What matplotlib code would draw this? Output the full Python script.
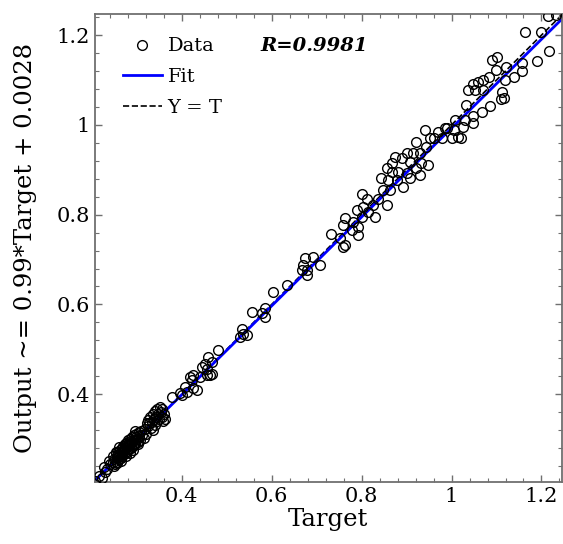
import matplotlib.pyplot as plt
from matplotlib.ticker import MultipleLocator, AutoMinorLocator
import numpy as np

# 目标值 (Target)
target = [
    0.208, 0.215, 0.222, 0.230, 0.226, 0.233, 0.241, 0.238,
    0.246, 0.248, 0.250, 0.252, 0.254, 0.255, 0.257, 0.258, 0.260, 0.261,
    0.262, 0.263, 0.264, 0.266, 0.267, 0.268, 0.270, 0.271, 0.272, 0.273,
    0.274, 0.275, 0.277, 0.278, 0.279, 0.281, 0.282, 0.283, 0.285, 0.286,
    0.287, 0.289, 0.290, 0.292, 0.293, 0.295, 0.296, 0.298, 0.300, 0.302,
    0.304, 0.306, 0.308, 0.310, 0.312, 0.315, 0.318, 0.320,
    0.249, 0.256, 0.259, 0.265, 0.269, 0.276, 0.280, 0.284, 0.288, 0.291,
    0.294, 0.299, 0.303, 0.253, 0.261, 0.276, 0.297,
    0.324, 0.326, 0.328, 0.330, 0.332, 0.334, 0.336, 0.338, 0.340, 0.341,
    0.343, 0.345, 0.346, 0.348, 0.350, 0.351, 0.353, 0.355, 0.357, 0.359,
    0.360, 0.362, 0.336, 0.322,
    0.378, 0.396, 0.400, 0.407, 0.411, 0.426, 0.422, 0.433, 0.441, 0.456,
    0.426, 0.467, 0.444, 0.456, 0.452, 0.467, 0.459, 0.481, 0.418, 0.463,
    0.530, 0.537, 0.544, 0.533, 0.556, 0.585, 0.578, 0.585, 0.604, 0.633,
    0.678, 0.667, 0.678, 0.670, 0.707, 0.674, 0.692,
    0.759, 0.763, 0.752, 0.733, 0.792, 0.778, 0.792, 0.759, 0.781, 0.763,
    0.830, 0.800, 0.815, 0.789, 0.804, 0.826, 0.856, 0.837, 0.811, 0.800,
    0.848, 0.863, 0.892, 0.907, 0.878, 0.859, 0.844, 0.930, 0.900, 0.881,
    0.867, 0.856, 0.867, 0.922, 0.948, 0.933, 0.907, 0.874, 0.889, 0.900,
    0.915, 0.930, 0.944, 0.922, 0.952, 0.941, 0.970, 0.989,
    0.961, 0.978, 0.985, 1.005, 1.000, 1.015, 1.022, 1.026, 1.007, 1.030,
    1.047, 1.047, 1.067, 1.085, 1.033, 1.111, 1.116, 1.113, 1.070, 1.053,
    1.037, 1.048, 1.059, 1.070, 1.083, 1.098, 1.089, 1.100, 1.118, 1.121,
    1.138, 1.157, 1.157, 1.191, 1.216, 1.198, 1.164, 1.233, 1.214,
]

# 网络输出 (Output)
output = [
    0.207, 0.218, 0.214, 0.227, 0.238, 0.233, 0.245, 0.252,
    0.250, 0.262, 0.255, 0.244, 0.268, 0.258, 0.250, 0.272, 0.263, 0.255,
    0.276, 0.268, 0.258, 0.281, 0.270, 0.262, 0.285, 0.274, 0.266, 0.290,
    0.279, 0.270, 0.292, 0.283, 0.274, 0.297, 0.287, 0.278, 0.300, 0.290,
    0.281, 0.304, 0.294, 0.285, 0.308, 0.298, 0.290, 0.312, 0.301, 0.293,
    0.316, 0.306, 0.298, 0.318, 0.309, 0.302, 0.322, 0.312,
    0.240, 0.247, 0.265, 0.252, 0.276, 0.262, 0.290, 0.268, 0.296, 0.276,
    0.286, 0.305, 0.288, 0.272, 0.282, 0.286, 0.318,
    0.330, 0.342, 0.335, 0.350, 0.325, 0.338, 0.356, 0.345, 0.332, 0.362,
    0.350, 0.340, 0.368, 0.356, 0.345, 0.372, 0.360, 0.350, 0.366, 0.340,
    0.356, 0.345, 0.320, 0.335,
    0.394, 0.402, 0.398, 0.416, 0.405, 0.413, 0.431, 0.409, 0.439, 0.442,
    0.442, 0.446, 0.461, 0.457, 0.468, 0.472, 0.483, 0.498, 0.439, 0.442,
    0.528, 0.535, 0.532, 0.546, 0.583, 0.572, 0.580, 0.591, 0.628, 0.643,
    0.665, 0.676, 0.676, 0.688, 0.688, 0.703, 0.706,
    0.728, 0.732, 0.747, 0.758, 0.755, 0.766, 0.773, 0.777, 0.784, 0.792,
    0.795, 0.795, 0.806, 0.810, 0.818, 0.821, 0.821, 0.834, 0.834, 0.847,
    0.855, 0.855, 0.862, 0.881, 0.877, 0.877, 0.881, 0.888, 0.892, 0.896,
    0.896, 0.903, 0.914, 0.903, 0.911, 0.914, 0.918, 0.929, 0.926, 0.937,
    0.937, 0.937, 0.951, 0.963, 0.970, 0.989, 0.985, 0.992,
    0.970, 0.970, 0.992, 0.989, 0.970, 0.974, 0.970, 0.996, 1.011, 1.011,
    1.005, 1.020, 1.029, 1.041, 1.044, 1.057, 1.059, 1.074, 1.078, 1.078,
    1.078, 1.091, 1.096, 1.100, 1.107, 1.122, 1.145, 1.152, 1.099, 1.128,
    1.106, 1.121, 1.139, 1.143, 1.165, 1.206, 1.206, 1.245, 1.243,
]

fit_slope = 0.99
fit_intercept = 0.0028
r_value = 0.9981

x_limits = (0.207, 1.245)
y_limits = (0.205, 1.247)


def main():
    plt.rcParams['font.family'] = 'DejaVu Serif'
    fig = plt.figure(figsize=(5.63, 5.44), dpi=100)
    ax = fig.add_axes([0.1687, 0.1145, 0.829, 0.8597])

    x_line = np.array(x_limits)
    ax.plot(target, output, 'o', mfc='none', mec='black', ms=7.0, mew=1.0,
            label='Data', zorder=3)
    ax.plot(x_line, fit_slope * x_line + fit_intercept, color='#0000ff',
            lw=2.0, label='Fit', zorder=2)
    ax.plot(x_line, x_line, '--', color='black', lw=1.2, label='Y = T',
            zorder=1)

    ax.set_xlim(*x_limits)
    ax.set_ylim(*y_limits)
    ax.xaxis.set_major_locator(MultipleLocator(0.2))
    ax.yaxis.set_major_locator(MultipleLocator(0.2))
    ax.xaxis.set_major_formatter(plt.FuncFormatter(lambda v, p: f'{v:g}'))
    ax.yaxis.set_major_formatter(plt.FuncFormatter(lambda v, p: f'{v:g}'))
    ax.xaxis.set_minor_locator(AutoMinorLocator(5))
    ax.yaxis.set_minor_locator(AutoMinorLocator(5))
    ax.tick_params(which='both', direction='in', top=True, right=True,
                   color='#707070', labelsize=15)
    ax.tick_params(which='major', length=5, width=1.0)
    ax.tick_params(which='minor', length=3, width=0.8)
    for s in ax.spines.values():
        s.set_color('#707070')
        s.set_linewidth(1.3)

    ax.set_xlabel('Target', fontsize=17.5, labelpad=2)
    ax.set_ylabel('Output ~= 0.99*Target + 0.0028', fontsize=17.5, labelpad=14)

    ax.legend(loc='upper left', bbox_to_anchor=(0.06, 0.95), frameon=False,
              fontsize=14, borderaxespad=0, borderpad=0, handlelength=2.0,
              handletextpad=0.3, labelspacing=0.65)
    ax.text(0.469, 0.932, f'R={r_value}', transform=ax.transAxes,
            fontsize=14, fontweight='bold', fontstyle='italic',
            ha='center', va='center')

    fig.savefig('out.png', dpi=100)


if __name__ == '__main__':
    main()
